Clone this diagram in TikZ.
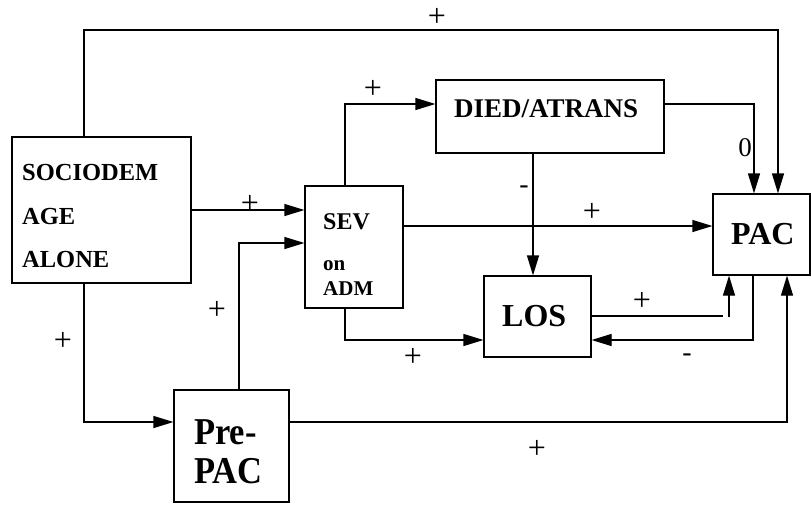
\documentclass[tikz,border=0pt]{standalone}
\usepackage{fontspec}
\setmainfont{Liberation Serif}
\usetikzlibrary{arrows.meta}
\begin{document}
\begin{tikzpicture}[x=1pt,y=-1pt,
  box/.style={draw,line width=1.2pt,inner sep=0pt,rectangle},
  conn/.style={line width=1.2pt},
  arr/.style={conn,-{Triangle[length=20pt,width=12pt]}},
  lbl/.style={font=\fontsize{#1}{#1}\selectfont,inner sep=0pt},
  lbl/.default=32,
  btxt/.style={anchor=base west,inner sep=0pt,font=\bfseries\fontsize{#1}{#1}\selectfont}]
\useasboundingbox (0,0) rectangle (811,504);
% boxes
\node[box,minimum width=179pt,minimum height=146pt] (socio) at (101.5,210) {};
\node[box,minimum width=98pt,minimum height=122pt] (sev) at (354,247) {};
\node[box,minimum width=228pt,minimum height=73pt] (died) at (550,116.5) {};
\node[box,minimum width=97pt,minimum height=81pt] (pac) at (761.5,234.5) {};
\node[box,minimum width=107pt,minimum height=81pt] (los) at (537.5,316.5) {};
\node[box,minimum width=115pt,minimum height=112pt] (prepac) at (231.5,446) {};
% texts
\node[btxt=24.5] (t1) at (22,180) {SOCIODEM};
\node[btxt=24.5] (t2) at (22,224) {AGE};
\node[btxt=24.5] (t3) at (22,267) {ALONE};
\node[btxt=27] (t4) at (454,117) {DIED/ATRANS};
\node[btxt=24] (t5) at (323,229) {SEV};
\node[btxt=21] (t6) at (323,270) {on};
\node[btxt=21] (t7) at (323,295) {ADM};
\node[btxt=32] (t8) at (731,244) {PAC};
\node[btxt=32] (t9) at (502,326) {LOS};
\node[btxt=34.5,yscale=1.1] (t10) at (194,444) {Pre-};
\node[btxt=34.5,yscale=1.1] (t11) at (194,483) {PAC};
% connectors
\draw[arr] (84,0 |- socio.north) -- (84,30) -- (778,30) -- (778,0 |- pac.north);
\draw[arr] (socio.east |- 0,210) -- (sev.west |- 0,210);
\draw[arr] (239,0 |- prepac.north) -- (239,243) -- (sev.west |- 0,243);
\draw[arr] (84,0 |- socio.south) -- (84,422) -- (prepac.west |- 0,422);
\draw[arr] (345,0 |- sev.north) -- (345,104) -- (died.west |- 0,104);
\draw[arr] (died.east |- 0,104) -- (754,104) -- (754,0 |- pac.north);
\draw[arr] (533,0 |- died.south) -- (533,0 |- los.north);
\draw[arr] (sev.east |- 0,226) -- (pac.west |- 0,226);
\draw[arr] (345,0 |- sev.south) -- (345,340) -- (los.west |- 0,340);
\coordinate (losend) at (723,316);
\coordinate (lostail) at (729,317);
\draw[conn] (los.east |- losend) -- (losend);
\draw[arr] (lostail) -- (lostail |- pac.south);
\draw[arr] (753,0 |- pac.south) -- (753,340) -- (los.east |- 0,340);
\draw[arr] (prepac.east |- 0,422) -- (787,422) -- (787,0 |- pac.south);
% labels
\node[lbl] (l1) at (437,17) {+};
\node[lbl] (l2) at (250,204) {+};
\node[lbl] (l3) at (217,310) {+};
\node[lbl] (l4) at (63,341) {+};
\node[lbl] (l5) at (373,89) {+};
\node[lbl=27] (l6) at (745,148) {0};
\node[lbl=28] (l7) at (524,190) {-};
\node[lbl] (l8) at (592,212) {+};
\node[lbl] (l9) at (413,357) {+};
\node[lbl] (l10) at (642,301) {+};
\node[lbl=28] (l11) at (687,358) {-};
\node[lbl] (l12) at (537,449) {+};
\end{tikzpicture}
\end{document}
